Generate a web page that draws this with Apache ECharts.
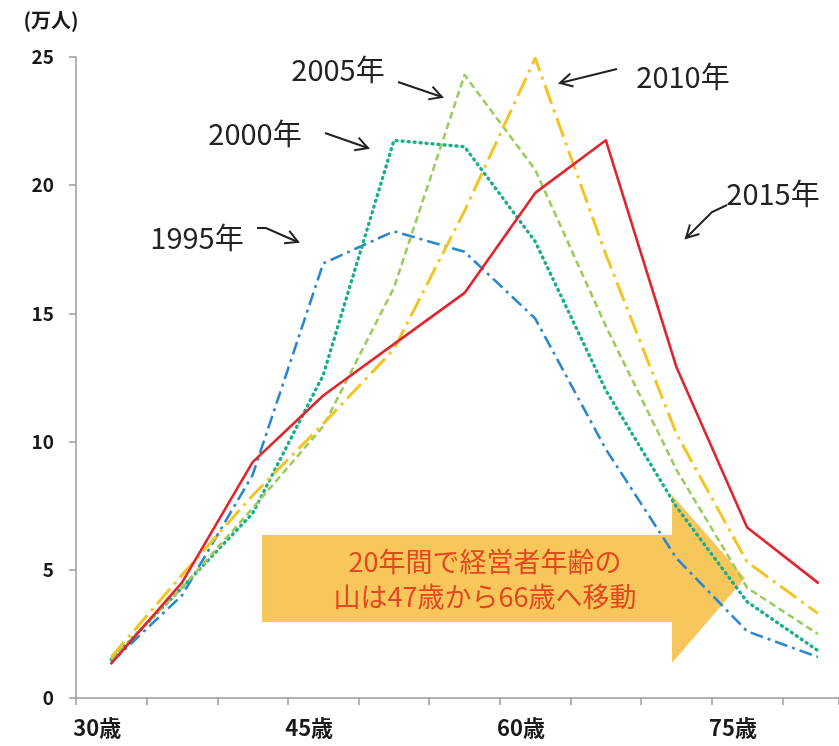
<!DOCTYPE html>
<html>
<head>
<meta charset="utf-8">
<script src="https://cdn.jsdelivr.net/npm/echarts@6/dist/echarts.min.js"></script>
<style>
html,body{margin:0;padding:0;background:#fff;}
#chart{width:839px;height:746px;}
</style>
</head>
<body>
<div id="chart"></div>
<script>
// ---- data ----
const firstAge = 29, lastAge = 82;          // single-year category axis
const labeledAges = [30, 45, 60, 75];
const tickLabels = ['30歳', '45歳', '60歳', '75歳'];
const ages = [31, 36, 41, 46, 51, 56, 61, 66, 71, 76, 81];
const seriesNames = ['1995年', '2000年', '2005年', '2010年', '2015年'];
const v1995 = [1.4, 4.0, 8.7, 16.95, 18.2, 17.4, 14.8, 9.7, 5.45, 2.6, 1.6];
const v2000 = [1.5, 4.3, 7.2, 12.6, 21.75, 21.5, 17.8, 12.0, 7.45, 3.75, 1.85];
const v2005 = [1.5, 4.3, 7.4, 10.6, 16.0, 24.3, 20.6, 14.5, 8.9, 4.3, 2.5];
const v2010 = [1.6, 4.8, 7.9, 10.7, 13.6, 19.0, 24.95, 17.3, 10.3, 5.3, 3.3];
const v2015 = [1.35, 4.5, 9.2, 11.8, 13.8, 15.8, 19.7, 21.75, 12.9, 6.65, 4.5];
const yTicks = [0, 5, 10, 15, 20, 25];
const unitLabel = '(万人)';
const arrowText = ['20年間で経営者年齢の', '山は47歳から66歳へ移動'];

// ---- build ----
const categories = [];
for (let a = firstAge; a <= lastAge; a++) categories.push(String(a));
const toData = vals => ages.map((a, i) => [String(a), vals[i]]);

const styles = [
  { color: '#2b88cf', type: [13, 5, 3, 5], width: 2.6, cap: 'butt' },
  { color: '#1aae8c', type: [1, 5], width: 3.4, cap: 'round' },
  { color: '#9acd5c', type: [7, 4], width: 2.6, cap: 'butt' },
  { color: '#f5c422', type: [20, 6, 3, 6], width: 3, cap: 'butt' },
  { color: '#e0262c', type: 'solid', width: 2.6, cap: 'round' }
];
const allVals = [v1995, v2000, v2005, v2010, v2015];

const series = allVals.map((vals, k) => ({
  name: seriesNames[k],
  type: 'line',
  data: toData(vals),
  symbol: 'none',
  z: 5,
  lineStyle: { color: styles[k].color, width: styles[k].width, type: styles[k].type, cap: styles[k].cap, join: 'round' },
  itemStyle: { color: styles[k].color }
}));

// annotation layout (pixels)
const notes = [
  { text: seriesNames[0], x: 197, y: 238, pts: [[257, 228], [266, 228], [284, 236], [298, 242]] },
  { text: seriesNames[1], x: 255, y: 134, pts: [[325, 133], [368, 148]] },
  { text: seriesNames[2], x: 338, y: 70, pts: [[398, 82], [442, 97]] },
  { text: seriesNames[3], x: 683, y: 77, pts: [[617, 69], [560, 83]] },
  { text: seriesNames[4], x: 773, y: 194, pts: [[727, 205], [712, 212], [686, 238]] }
];
const font = "'Noto Sans CJK JP', 'Noto Sans', sans-serif";
const graphics = [];
graphics.push({
  type: 'polygon', z: 0,
  shape: { points: [[262, 535], [672, 535], [672, 495], [745, 578], [672, 663], [672, 622], [262, 622]] },
  style: { fill: '#f8c75b' }
});
graphics.push({
  type: 'text', z: 10,
  style: {
    text: arrowText.join('\n'), x: 485, y: 579, fill: '#e2481f',
    fontSize: 27, fontFamily: font, lineHeight: 35,
    align: 'center', verticalAlign: 'middle', textAlign: 'center', textVerticalAlign: 'middle'
  }
});
notes.forEach(n => {
  graphics.push({
    type: 'text', z: 10,
    style: {
      text: n.text, x: n.x, y: n.y, fill: '#222', fontSize: 29, fontFamily: font,
      align: 'center', verticalAlign: 'middle', textAlign: 'center', textVerticalAlign: 'middle'
    }
  });
  graphics.push({
    type: 'polyline', z: 10,
    shape: { points: n.pts },
    style: { stroke: '#222', lineWidth: 2, fill: null }
  });
  const p1 = n.pts[n.pts.length - 2], p2 = n.pts[n.pts.length - 1];
  const ang = Math.atan2(p2[1] - p1[1], p2[0] - p1[0]);
  const L = 14, sp = 0.5;
  graphics.push({
    type: 'polyline', z: 10,
    shape: { points: [
      [p2[0] - L * Math.cos(ang - sp), p2[1] - L * Math.sin(ang - sp)],
      p2,
      [p2[0] - L * Math.cos(ang + sp), p2[1] - L * Math.sin(ang + sp)]
    ] },
    style: { stroke: '#222', lineWidth: 2, fill: null }
  });
});

const chart = echarts.init(document.getElementById('chart'), null, { renderer: 'canvas' });
chart.setOption({
  backgroundColor: '#fff',
  animation: false,
  grid: { left: 76, right: -3, top: 57, bottom: 48, containLabel: false },
  xAxis: {
    type: 'category',
    data: categories,
    boundaryGap: true,
    axisLine: { lineStyle: { color: '#9a9a9a', width: 1.5 } },
    axisTick: { show: true, length: 7, interval: (i) => i % 5 === 0, lineStyle: { color: '#9a9a9a', width: 1.5 } },
    axisLabel: {
      interval: (i, v) => labeledAges.indexOf(+v) >= 0,
      formatter: v => tickLabels[labeledAges.indexOf(+v)] || '',
      color: '#1a1a1a', fontSize: 22, fontWeight: 'bold', fontFamily: font, margin: 19
    },
    splitLine: { show: false }
  },
  yAxis: {
    type: 'value', min: yTicks[0], max: yTicks[yTicks.length - 1], interval: 5,
    name: unitLabel, nameLocation: 'end', nameGap: 27,
    nameTextStyle: { color: '#1a1a1a', fontSize: 20, fontWeight: 'bold', fontFamily: font, align: 'center', padding: [0, 50, 0, 0] },
    axisLine: { show: true, lineStyle: { color: '#9a9a9a', width: 1.5 } },
    axisTick: { show: true, length: 7, lineStyle: { color: '#9a9a9a', width: 1.5 } },
    axisLabel: { color: '#1a1a1a', fontSize: 19, fontWeight: 'bold', fontFamily: font, margin: 22 },
    splitLine: { show: false }
  },
  legend: { show: false },
  series: series,
  graphic: { elements: graphics }
});
</script>
</body>
</html>
